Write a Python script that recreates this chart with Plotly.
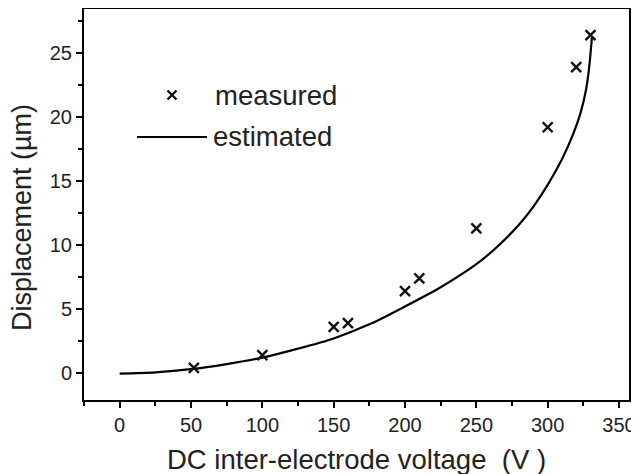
import plotly.graph_objects as go

# measured data
meas_v = [52, 100, 150, 160, 200, 210, 250, 300, 320, 330]
meas_d = [0.4, 1.4, 3.6, 3.9, 6.4, 7.4, 11.3, 19.2, 23.9, 26.4]

# estimated curve
est_v = [0, 25, 50, 75, 100, 125, 150, 175, 200, 225, 250, 265, 280, 290, 300, 310, 318, 323, 327, 329, 331]
est_d = [-0.05, 0.05, 0.3, 0.7, 1.2, 1.9, 2.7, 3.8, 5.2, 6.7, 8.5, 9.9, 11.6, 13.0, 14.7, 16.7, 18.7, 20.3, 22.2, 23.8, 26.2]

x_ticks = [0, 50, 100, 150, 200, 250, 300, 350]
y_ticks = [0, 5, 10, 15, 20, 25]

FONT = "Arial, Liberation Sans, sans-serif"
TXT = "#222"
OFF = 8  # page body margin
W, H = 639 - OFF, 474 - OFF
# plot area in page pixels: left 84, right 629, top 9, bottom 400
L, R, T, B = 84 - OFF, W - (629 - OFF), 9 - OFF, H - (400 - OFF)
PW, PH = W - L - R, H - T - B

def px(xp):  # page pixel x -> paper
    return (xp - OFF - L) / PW

def py(yp):  # page pixel y -> paper
    return (H - B - (yp - OFF)) / PH

fig = go.Figure()
fig.add_trace(go.Scatter(x=est_v, y=est_d, mode="lines",
                         line=dict(color="black", width=2.2, shape="spline", smoothing=0.8),
                         showlegend=False, hoverinfo="skip"))
fig.add_trace(go.Scatter(x=meas_v, y=meas_d, mode="markers",
                         marker=dict(symbol="x-thin", size=10, color="black",
                                     line=dict(width=2.4, color="#111")),
                         showlegend=False))
# legend marker sample
fig.add_trace(go.Scatter(x=[px(172)], y=[py(95)], mode="markers", xaxis="x2", yaxis="y2",
                         marker=dict(symbol="x-thin", size=9, color="black",
                                     line=dict(width=2.4, color="#111")),
                         showlegend=False, hoverinfo="skip"))

axis_common = dict(showline=True, linecolor="black", linewidth=2, mirror=True,
                   ticks="outside", ticklen=6, tickwidth=1.5, tickcolor="black",
                   showgrid=False, zeroline=False, automargin=False,
                   tickfont=dict(family=FONT, size=20, color=TXT))

fig.update_layout(
    width=W, height=H,
    margin=dict(l=L, r=R, t=T, b=B, pad=0),
    paper_bgcolor="white", plot_bgcolor="white",
    xaxis=dict(range=[-25, 357], tickvals=x_ticks,
               minor=dict(ticks="outside", ticklen=4, tickwidth=1.5, tickcolor="black", dtick=25, tick0=0),
               **axis_common),
    yaxis=dict(range=[-2.11, 28.44], tickvals=y_ticks,
               minor=dict(ticks="outside", ticklen=4, tickwidth=1.5, tickcolor="black", dtick=2.5, tick0=0),
               **axis_common),
    xaxis2=dict(range=[0, 1], overlaying="x", visible=False),
    yaxis2=dict(range=[0, 1], overlaying="y", visible=False),
    shapes=[dict(type="line", xref="paper", yref="paper",
                 x0=px(137), x1=px(207), y0=py(137), y1=py(137),
                 line=dict(color="black", width=2.2))],
    annotations=[
        dict(text="measured", xref="paper", yref="paper", x=px(213), y=py(95),
             xanchor="left", yanchor="middle", showarrow=False,
             font=dict(family=FONT, size=27.5, color=TXT)),
        dict(text="estimated", xref="paper", yref="paper", x=px(211), y=py(136),
             xanchor="left", yanchor="middle", showarrow=False,
             font=dict(family=FONT, size=27.5, color=TXT)),
        dict(text="DC inter-electrode voltage  (V )", xref="paper", yref="paper",
             x=px(356), y=py(459), xanchor="center", yanchor="middle", showarrow=False,
             font=dict(family=FONT, size=27.5, color=TXT)),
        dict(text="Displacement (µm)", xref="paper", yref="paper", textangle=-90,
             x=px(22), y=py(218), xanchor="center", yanchor="middle", showarrow=False,
             font=dict(family=FONT, size=27, color=TXT)),
    ],
)

fig.write_html("out.html")
